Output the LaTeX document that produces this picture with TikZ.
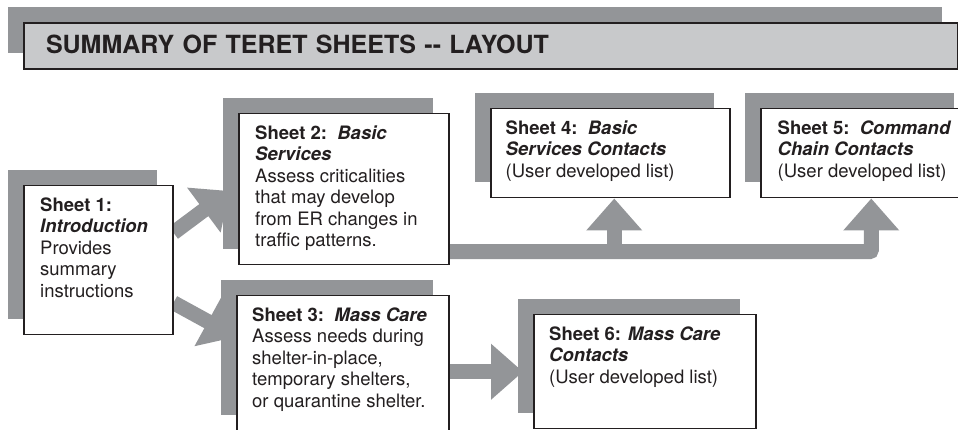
\documentclass[tikz,border=0pt]{standalone}
\usepackage{fontspec}
\setmainfont{TeX Gyre Heros}
\usepackage{tikz}
\usetikzlibrary{arrows.meta,shadows}
\pgfdeclarelayer{bg}
\pgfsetlayers{bg,main}
\definecolor{shgray}{RGB}{147,149,152}
\definecolor{hdgray}{RGB}{200,201,203}
\definecolor{inkblack}{RGB}{35,31,32}
\tikzstyle{sheet} = [draw=inkblack,line width=1.5pt,fill=white,anchor=north west,inner sep=0pt,drop shadow={shadow xshift=-16pt,shadow yshift=16pt,fill=shgray,opacity=1}]
\tikzstyle{sheettext} = [anchor=north west,inner sep=0pt,align=left,text=inkblack,font=\fontsize{18.5}{21.5}\selectfont]
\tikzstyle{flow} = [shgray,line width=15pt,-{Triangle[width=54pt,length=32pt]}]

\begin{document}
\begin{tikzpicture}[x=1pt,y=1pt]
  \useasboundingbox (0,0) rectangle (958,430);
  \clip (0,0) rectangle (958,430);
  % title bar
  \node[sheet,fill=hdgray,line width=2pt,minimum height=46pt,text width=890pt,text depth=4pt,inner xsep=22pt,align=left,text=inkblack,font=\fontsize{25}{30}\selectfont\bfseries] (title) at (23,408) {SUMMARY OF TERET SHEETS -{}- LAYOUT};

  % sheets
  \node[sheet,minimum width=149pt,minimum height=149pt] (s1) at (23,245) {};
  \node[sheet,minimum width=210pt,minimum height=151pt] (s2) at (238,317) {};
  \node[sheet,minimum width=212pt,minimum height=135.5pt] (s3) at (236,135) {};
  \node[sheet,minimum width=239pt,minimum height=89pt] (s4) at (490,322) {};
  \node[sheet,minimum width=209pt,minimum height=89pt] (s5) at (760,322) {};
  \node[sheet,minimum width=222pt,minimum height=114pt] (s6) at (533,116) {};

  % texts
  \node[sheettext] (t1) at ([shift={(17,-12.5)}]s1.north west) {\textbf{Sheet 1:}\\\textbf{\textit{Introduction}}\\Provides\\summary\\instructions};
  \node[sheettext] (t2) at ([shift={(17,-12.5)}]s2.north west) {\textbf{Sheet 2:\ \ \textit{Basic}}\\\textbf{\textit{Services}}\\Assess criticalities\\that may develop\\from ER changes in\\traffic patterns.};
  \node[sheettext] (t3) at ([shift={(16,-12.5)}]s3.north west) {\textbf{Sheet 3:\ \ \textit{Mass Care}}\\Assess needs during\\shelter-in-place,\\temporary shelters,\\or quarantine shelter.};
  \node[sheettext] (t4) at ([shift={(15.5,-12.5)}]s4.north west) {\textbf{Sheet 4:\ \ \textit{Basic}}\\\textbf{\textit{Services Contacts}}\\(User developed list)};
  \node[sheettext] (t5) at ([shift={(17.5,-12.5)}]s5.north west) {\textbf{Sheet 5:\ \ \textit{Command}}\\\textbf{\textit{Chain Contacts}}\\(User developed list)};
  \node[sheettext] (t6) at ([shift={(16,-12.5)}]s6.north west) {\textbf{Sheet 6: \textit{Mass Care}}\\\textbf{\textit{Contacts}}\\(User developed list)};

  % arrows
  \begin{pgfonlayer}{bg}
    \coordinate (band) at ([yshift=-62.5]s2.east);
    \coordinate (b4) at ([xshift=4]s4.south);
    \coordinate (b5) at ([xshift=6]s5.south);
    \draw[flow] ([yshift=27.5]s1.east) -- ([shift={(-8.5,-78)}]s2.north west);
    \draw[flow] ([yshift=-42.5]s1.east) -- ([yshift=-42]s3.north west);
    \draw[flow] (s6.west -| s3.east) -- ([xshift=-10]s6.west);
    \draw[flow,rounded corners=2pt] (band) -| (b5);
    \draw[flow] (b4 |- band) -- (b4);
  \end{pgfonlayer}
\end{tikzpicture}
\end{document}
